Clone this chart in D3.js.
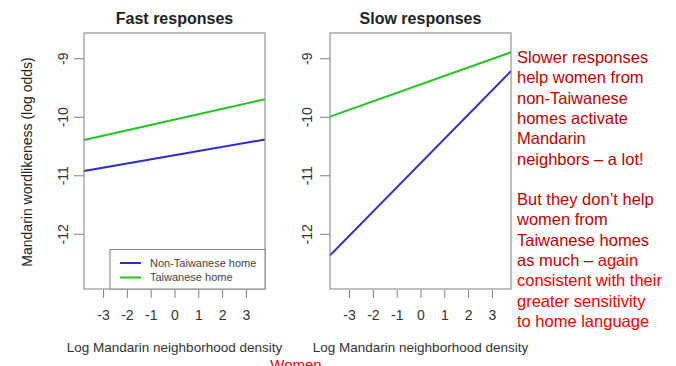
<!DOCTYPE html>
<html>
<head>
<meta charset="utf-8">
<script src="https://cdn.jsdelivr.net/npm/d3@7"></script>
<style>
  body { margin: 0; background: #fff; }
  svg { display: block; font-family: "Liberation Sans", Arial, sans-serif; }
</style>
</head>
<body>
<div id="chart"></div>
<script>
// values
const xEnds = [-3.8, 3.8];
const xTicks = [-3, -2, -1, 0, 1, 2, 3];
const yTicks = [-9, -10, -11, -12];
const seriesNames = ["Non-Taiwanese home", "Taiwanese home"];
const fastNonTaiwanese = [-10.92, -10.38];
const fastTaiwanese = [-10.39, -9.69];
const slowNonTaiwanese = [-12.36, -9.21];
const slowTaiwanese = [-9.99, -8.89];
const noteLines = [
  ["Slower responses", "#c00000"],
  ["help women from", "#c00000"],
  ["non-Taiwanese", "#c00000"],
  ["homes activate", "#c00000"],
  ["Mandarin", "#c00000"],
  ["neighbors \u2013 a lot!", "#c00000"],
  ["", ""],
  ["But they don\u2019t help", "#c00000"],
  ["women from", "#c00000"],
  ["Taiwanese homes", "#c00000"],
  ["as much \u2013 |again", "mixed"],
  ["consistent with their", "#f00000"],
  ["greater sensitivity", "#f00000"],
  ["to home language", "#f00000"]
];

const W = 676, H = 366;
const colors = ["#2b2bd6", "#22c422"];
const axisGrey = "#808080";

const svg = d3.select("#chart").append("svg")
  .attr("width", W).attr("height", H);

const yScale = d3.scaleLinear().domain([-12.935, -8.56]).range([289, 33]);

const panels = [
  { title: "Fast responses", left: 84, right: 265, labelOff: 21, series: [fastNonTaiwanese, fastTaiwanese], legend: true },
  { title: "Slow responses", left: 330, right: 511, labelOff: 23, series: [slowNonTaiwanese, slowTaiwanese], legend: false }
];

panels.forEach(p => {
  const x = d3.scaleLinear().domain(xEnds).range([p.left, p.right]);
  const g = svg.append("g");
  const cx = (p.left + p.right) / 2;

  g.append("text")
    .attr("x", cx).attr("y", 24)
    .attr("text-anchor", "middle")
    .style("font-weight", "bold").style("font-size", "16px")
    .attr("fill", "#222")
    .text(p.title);

  // series lines
  p.series.forEach((vals, i) => {
    const pts = vals.map((v, j) => [x(xEnds[j]), yScale(v)]);
    g.append("path")
      .attr("d", d3.line()(pts))
      .attr("stroke", colors[i]).attr("stroke-width", 2)
      .attr("fill", "none");
  });

  // box
  g.append("rect")
    .attr("x", p.left).attr("y", 33)
    .attr("width", p.right - p.left).attr("height", 256)
    .attr("fill", "none").attr("stroke", axisGrey).attr("stroke-width", 1);

  // y axis, labels parallel to the axis as in R
  const ya = g.append("g")
    .attr("transform", `translate(${p.left},0)`)
    .call(d3.axisLeft(yScale).tickValues(yTicks).tickSize(10).tickFormat(d => String(d)));
  ya.select(".domain").remove();
  ya.selectAll("line").attr("stroke", axisGrey);
  ya.selectAll("text")
    .attr("x", 0).attr("y", 0).attr("dy", null)
    .attr("text-anchor", "middle")
    .attr("dominant-baseline", "central")
    .attr("transform", d => `translate(${-p.labelOff},${yScale(d)}) rotate(-90)`)
    .style("font-size", "14px").attr("fill", "#333");
  ya.selectAll(".tick").attr("transform", null);
  ya.selectAll(".tick line")
    .attr("y1", d => yScale(d)).attr("y2", d => yScale(d));

  // x axis
  const xa = g.append("g")
    .attr("transform", "translate(0,290)")
    .call(d3.axisBottom(x).tickValues(xTicks).tickSize(8).tickPadding(12).tickFormat(d => String(d)));
  xa.select(".domain").remove();
  xa.selectAll("line").attr("stroke", axisGrey);
  xa.selectAll("text").style("font-size", "14px").attr("fill", "#333");

  g.append("text")
    .attr("x", cx).attr("y", 352)
    .attr("text-anchor", "middle")
    .style("font-size", "13.5px").attr("fill", "#333")
    .text("Log Mandarin neighborhood density");

  if (p.legend) {
    const lg = g.append("g");
    lg.append("rect")
      .attr("x", 110).attr("y", 249.5)
      .attr("width", p.right - 110).attr("height", 39.5)
      .attr("fill", "#fff").attr("stroke", axisGrey);
    seriesNames.forEach((name, i) => {
      const ly = 263 + i * 14.5;
      lg.append("line")
        .attr("x1", 120).attr("x2", 141).attr("y1", ly).attr("y2", ly)
        .attr("stroke", colors[i]).attr("stroke-width", 2);
      lg.append("text")
        .attr("x", 150).attr("y", ly).attr("dy", "0.35em")
        .style("font-size", "11px").attr("fill", "#444")
        .text(name);
    });
  }
});

// y axis title
svg.append("text")
  .attr("transform", "translate(32,162) rotate(-90)")
  .attr("text-anchor", "middle")
  .style("font-size", "14px").attr("fill", "#222")
  .text("Mandarin wordlikeness (log odds)");

// note text at right
const note = svg.append("text")
  .attr("x", 517).attr("y", 63)
  .style("font-size", "16.5px");
noteLines.forEach((ln, i) => {
  const [txt, col] = ln;
  if (col === "mixed") {
    const parts = txt.split("|");
    note.append("tspan").attr("x", 517).attr("y", 63 + i * 20.3)
      .attr("fill", "#c00000").text(parts[0]);
    note.append("tspan").attr("fill", "#f00000").text(parts[1]);
  } else {
    note.append("tspan").attr("x", 517).attr("y", 63 + i * 20.3)
      .attr("fill", col).text(txt);
  }
});

svg.append("text")
  .attr("x", 296).attr("y", 370)
  .attr("text-anchor", "middle")
  .style("font-size", "15px").attr("fill", "#e00000")
  .text("Women");
</script>
</body>
</html>
